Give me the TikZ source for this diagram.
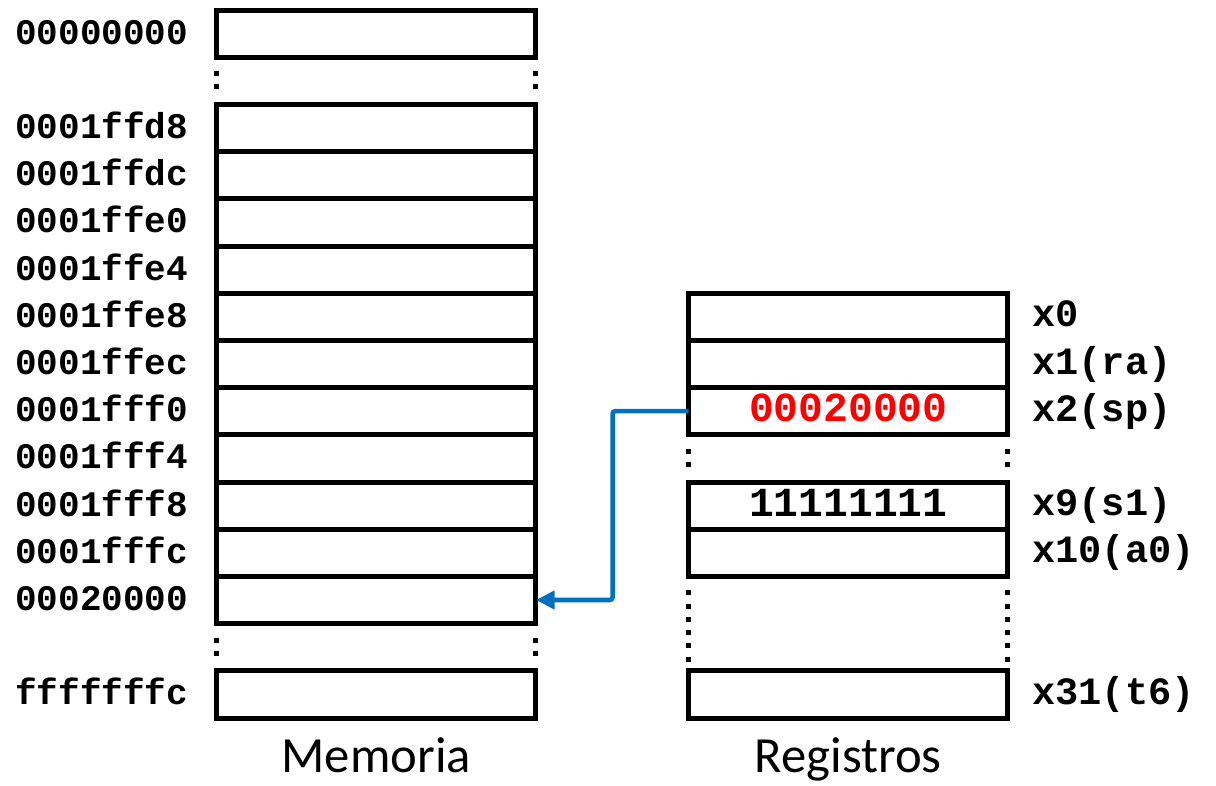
\documentclass[tikz,border=0pt]{standalone}
\usepackage{fontspec}
\setmainfont{Carlito}
\setmonofont{Liberation Mono}
\usetikzlibrary{arrows.meta,calc}
\definecolor{ptrblue}{RGB}{0,112,192}
\definecolor{valred}{RGB}{255,0,0}
\begin{document}
\begin{tikzpicture}[x=0.75pt,y=-0.75pt,
  cell/.style={draw=black, line width=3.75pt, minimum width=239.6pt, minimum height=35.4pt, inner sep=0pt, outer sep=0pt},
  addr/.style={font=\ttfamily\bfseries\fontsize{27}{27}\selectfont, anchor=base west, inner sep=0pt},
  regname/.style={font=\ttfamily\bfseries\fontsize{29}{29}\selectfont, anchor=base west, inner sep=0pt},
  val/.style={font=\ttfamily\bfseries\fontsize{31}{31}\selectfont, anchor=base, inner sep=0pt},
  coltitle/.style={font=\fontsize{38}{38}\selectfont, anchor=base, inner sep=0pt},
  dots/.style={line width=3.75pt, dash pattern=on 3.75pt off 6pt},
  dotslong/.style={line width=3.75pt, dash pattern=on 3.75pt off 6.2pt},
  ptr/.style={draw=ptrblue, line width=3.4pt, rounded corners=2pt, -{Triangle[length=14pt,width=13.5pt]}}]
\useasboundingbox (0,0) rectangle (1216,785);
\def\MX{376.25}
\def\RX{848.25}
% memory cells
\foreach \k/\nm in {0/m0,2/ma,3/mb,4/mc,5/md,6/me,7/mf,8/mg,9/mh,10/mi,11/mj,12/mk,14/ml}{
  \node[cell] (\nm) at (\MX,{10+47.2*(\k+0.5)}) {};
}
% register cells
\foreach \k/\nm in {6/r0,7/r1,8/r2,10/r9,11/r10,14/r31}{
  \node[cell] (\nm) at (\RX,{10+47.2*(\k+0.5)}) {};
}
% dotted gaps
\draw[dots] ($(m0.south west)+(0,14)$) -- ($(ma.north west)+(0,-14)$);
\draw[dots] ($(m0.south east)+(0,14)$) -- ($(ma.north east)+(0,-14)$);
\draw[dots] ($(mk.south west)+(0,14)$) -- ($(ml.north west)+(0,-14)$);
\draw[dots] ($(mk.south east)+(0,14)$) -- ($(ml.north east)+(0,-14)$);
\draw[dots] ($(r2.south west)+(0,14)$) -- ($(r9.north west)+(0,-14)$);
\draw[dots] ($(r2.south east)+(0,14)$) -- ($(r9.north east)+(0,-14)$);
\draw[dotslong] ($(r10.south west)+(0,14)$) -- ($(r31.north west)+(0,-9)$);
\draw[dotslong] ($(r10.south east)+(0,14)$) -- ($(r31.north east)+(0,-9)$);
% address labels
\foreach \k/\t [count=\i] in {0/00000000,2/0001ffd8,3/0001ffdc,4/0001ffe0,5/0001ffe4,6/0001ffe8,7/0001ffec,8/0001fff0,9/0001fff4,10/0001fff8,11/0001fffc,12/00020000,14/fffffffc}{
  \node[addr] (a\i) at (15,{10+47.2*(\k+0.5)+10.5}) {\t};
}
% register names
\foreach \k/\t [count=\i] in {6/x0,7/x1(ra),8/x2(sp),10/x9(s1),11/x10(a0),14/x31(t6)}{
  \node[regname] (n\i) at (1032,{10+47.2*(\k+0.5)+10}) {\t};
}
% values
\node[val, text=valred] (v2) at (\RX,{10+47.2*8.5+10.5}) {00020000};
\node[val] (v9) at (\RX,{10+47.2*10.5+10.5}) {11111111};
% titles
\node[coltitle] (tm) at (\MX,772) {Memoria};
\node[coltitle] (tr) at (\RX,772) {Registros};
% pointer
\draw[ptr] (r2.west) -- ++(-76,0) |- (mk.east);
\end{tikzpicture}
\end{document}
